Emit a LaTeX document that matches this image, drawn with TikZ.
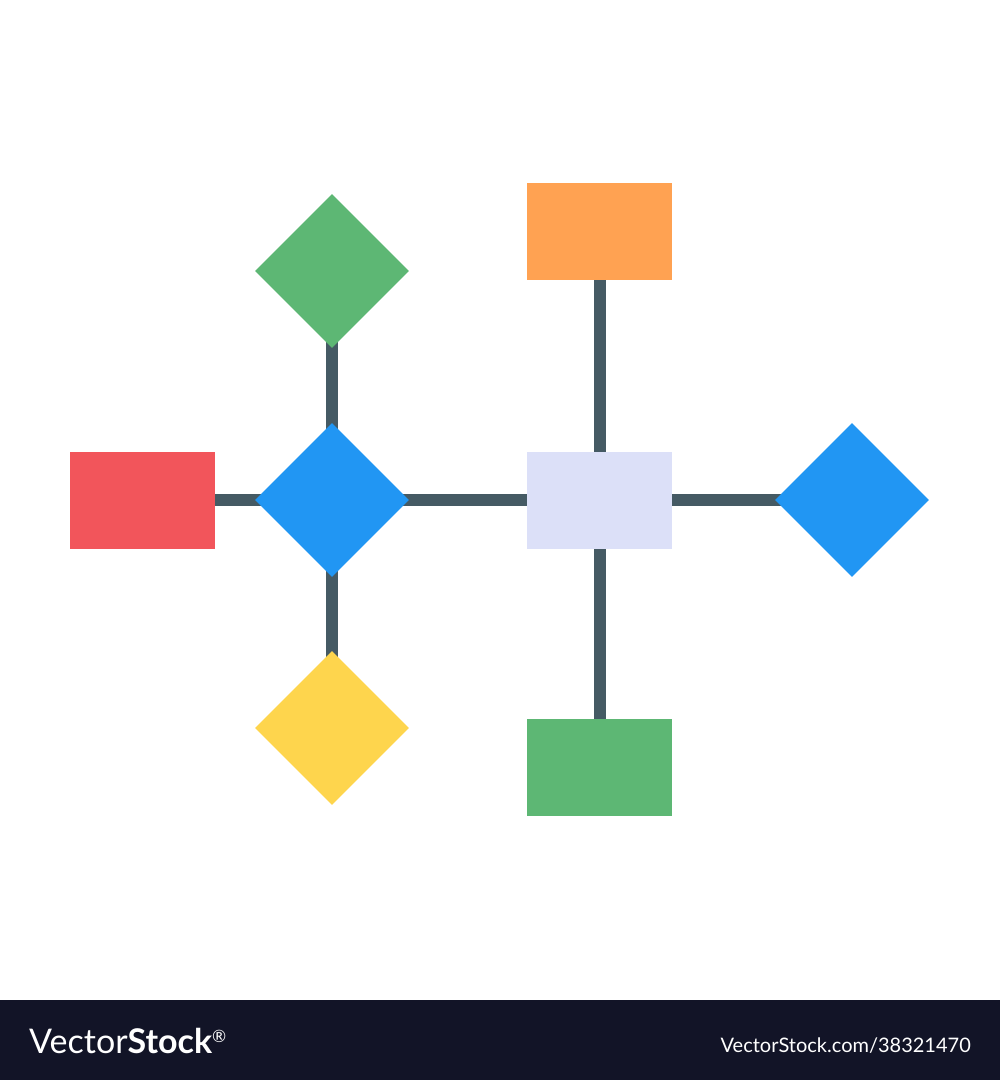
\documentclass[tikz,border=0pt]{standalone}
\usepackage{fontspec}
\setmainfont{Lato}
\usetikzlibrary{shapes.geometric}
\usetikzlibrary{backgrounds}
\definecolor{flowred}{HTML}{F2555B}
\definecolor{flowblue}{HTML}{2196F3}
\definecolor{flowgreen}{HTML}{5DB774}
\definecolor{flowyellow}{HTML}{FED54D}
\definecolor{floworange}{HTML}{FFA252}
\definecolor{flowlilac}{HTML}{DCE0F8}
\definecolor{flowline}{HTML}{455A64}
\definecolor{barnavy}{HTML}{121427}
\begin{document}
\begin{tikzpicture}[x=1pt,y=-1pt,
  box/.style={rectangle,draw=none,inner sep=0pt,minimum width=145pt,minimum height=97pt},
  gem/.style={diamond,draw=none,inner sep=0pt,minimum width=154pt,minimum height=154pt},
  link/.style={flowline,line width=12pt}]
\useasboundingbox (0,0) rectangle (1000,1080);

% shapes
\node[box,fill=flowred] (red) at (142.5,500) {};
\node[gem,fill=flowblue] (hub) at (332,500) {};
\node[gem,fill=flowgreen] (top) at (332,271) {};
\node[gem,fill=flowyellow] (bottom) at (332,728) {};
\node[box,fill=flowlilac] (mid) at (599.5,500) {};
\node[box,fill=floworange] (upper) at (599.5,231.5) {};
\node[box,fill=flowgreen] (lower) at (599.5,767.5) {};
\node[gem,fill=flowblue] (right) at (852,500) {};

% connectors
\begin{scope}[on background layer]
\draw[link] (red.center) -- (hub.center);
\draw[link] (top.center) -- (hub.center);
\draw[link] (hub.center) -- (bottom.center);
\draw[link] (hub.center) -- (mid.center);
\draw[link] (upper.center) -- (mid.center);
\draw[link] (mid.center) -- (lower.center);
\draw[link] (mid.center) -- (right.center);
\end{scope}

% footer
\fill[barnavy] (0,1000) rectangle (1000,1080);
\node[anchor=west,text=white,font=\fontsize{34}{38}\selectfont,inner sep=0pt] (brand) at (29,1041) {Vector\textbf{Stock}\raisebox{11pt}{\fontsize{17}{18}\selectfont\textregistered}};
\node[anchor=east,text=white,font=\fontsize{20}{24}\selectfont,inner sep=0pt] (ref) at (971,1046) {VectorStock.com/38321470};
\end{tikzpicture}
\end{document}
